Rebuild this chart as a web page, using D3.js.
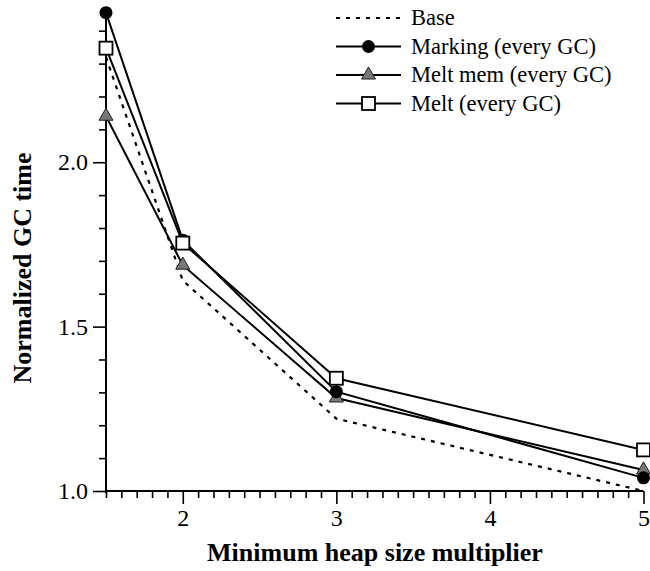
<!DOCTYPE html>
<html>
<head>
<meta charset="utf-8">
<script src="https://cdn.jsdelivr.net/npm/d3@7"></script>
<style>
  html, body { margin: 0; padding: 0; background: #fff; }
  svg { display: block; }
  text { font-family: "Liberation Serif", "Times New Roman", serif; fill: #000; }
</style>
</head>
<body>
<svg id="chart" width="650" height="571"></svg>
<script>
// Heap size multipliers on the x axis
const multipliers = [1.5, 2, 3, 5];

// Normalized GC time for each configuration
const baseValues     = [2.32, 1.64, 1.22, 1.00];
const markingValues  = [2.455, 1.763, 1.302, 1.040];
const meltMemValues  = [2.14, 1.687, 1.283, 1.064];
const meltValues     = [2.347, 1.754, 1.343, 1.125];

const seriesNames = ["Base", "Marking (every GC)", "Melt mem (every GC)", "Melt (every GC)"];

// Axis tick labels
const xTickLabels = [2, 3, 4, 5];
const yTickLabels = [1.0, 1.5, 2.0];

const svg = d3.select("#chart");

const x = d3.scaleLinear().domain([1.5, 5]).range([106, 643.5]);
const y = d3.scaleLinear().domain([1.0, 2.46]).range([491, 11]);

const series = [
  { name: seriesNames[0], values: baseValues,    marker: "none",     dash: "4,6" },
  { name: seriesNames[2], values: meltMemValues, marker: "triangle", dash: null },
  { name: seriesNames[1], values: markingValues, marker: "circle",   dash: null },
  { name: seriesNames[3], values: meltValues,    marker: "square",   dash: null }
];

// ---- axes ----
const xMinor = d3.range(15, 51).map(d => d / 10).filter(d => !xTickLabels.includes(d));
const yMinor = d3.range(10, 25).map(d => d / 10).filter(d => !yTickLabels.some(v => Math.abs(v - d) < 1e-9));

const axisG = svg.append("g");

// x axis: major ticks with labels, minor ticks without
axisG.append("g")
  .attr("transform", `translate(0,${y(1.0)})`)
  .call(d3.axisBottom(x).tickValues(xMinor).tickSize(7).tickFormat("").tickSizeOuter(0))
  .call(g => g.select(".domain").remove())
  .call(g => g.selectAll("line").attr("stroke", "#000").attr("stroke-width", 1.6));

axisG.append("g")
  .attr("transform", `translate(0,${y(1.0)})`)
  .call(d3.axisBottom(x).tickValues(xTickLabels).tickSize(13).tickPadding(5)
        .tickFormat(d3.format("d")).tickSizeOuter(0))
  .call(g => g.select(".domain").attr("stroke", "#000").attr("stroke-width", 2).attr("d", `M${x(1.5)},0H${x(5)}`))
  .call(g => g.selectAll("line").attr("stroke", "#000").attr("stroke-width", 1.6))
  .call(g => g.selectAll("text").attr("font-size", 24).style("font-family", "Liberation Serif"));

// y axis
axisG.append("g")
  .attr("transform", `translate(${x(1.5)},0)`)
  .call(d3.axisLeft(y).tickValues(yMinor).tickSize(7).tickFormat("").tickSizeOuter(0))
  .call(g => g.select(".domain").remove())
  .call(g => g.selectAll("line").attr("stroke", "#000").attr("stroke-width", 1.6));

axisG.append("g")
  .attr("transform", `translate(${x(1.5)},0)`)
  .call(d3.axisLeft(y).tickValues(yTickLabels).tickSize(13).tickPadding(5)
        .tickFormat(d3.format(".1f")).tickSizeOuter(0))
  .call(g => g.select(".domain").attr("stroke", "#000").attr("stroke-width", 2).attr("d", `M0,${y(1.0) + 2}V${y.range()[1]}`))
  .call(g => g.selectAll("line").attr("stroke", "#000").attr("stroke-width", 1.6))
  .call(g => g.selectAll("text").attr("font-size", 24).style("font-family", "Liberation Serif"));

// ---- axis titles ----
svg.append("text")
  .attr("x", 375).attr("y", 561)
  .attr("text-anchor", "middle")
  .attr("font-size", 26).attr("font-weight", "bold")
  .text("Minimum heap size multiplier");

svg.append("text")
  .attr("transform", `translate(31,268) rotate(-90)`)
  .attr("text-anchor", "middle")
  .attr("font-size", 26).attr("font-weight", "bold")
  .text("Normalized GC time");

// ---- markers ----
function drawMarker(g, type, cx, cy) {
  if (type === "circle") {
    g.append("circle").attr("cx", cx).attr("cy", cy).attr("r", 6.5)
      .attr("fill", "#000");
  } else if (type === "square") {
    g.append("rect").attr("x", cx - 6.5).attr("y", cy - 6.5)
      .attr("width", 13).attr("height", 13)
      .attr("fill", "#fff").attr("stroke", "#000").attr("stroke-width", 1.8);
  } else if (type === "triangle") {
    const sym = d3.symbol().type(d3.symbolTriangle).size(85);
    g.append("path").attr("d", sym())
      .attr("transform", `translate(${cx},${cy})`)
      .attr("fill", "#777").attr("stroke", "#222").attr("stroke-width", 1);
  }
}

// ---- lines ----
const line = d3.line().x((d, i) => x(multipliers[i])).y(d => y(d));
const plot = svg.append("g");

series.forEach(s => {
  const g = plot.append("g");
  g.append("path")
    .attr("d", line(s.values))
    .attr("fill", "none")
    .attr("stroke", "#000")
    .attr("stroke-width", s.dash ? 2.2 : 2)
    .attr("stroke-dasharray", s.dash);
  s.values.forEach((v, i) => drawMarker(g, s.marker, x(multipliers[i]), y(v)));
});

// ---- legend ----
const legendOrder = [series[0], series[2], series[1], series[3]];
const legend = svg.append("g");
legendOrder.forEach((s, i) => {
  const ly = 18 + i * 28.5;
  const row = legend.append("g");
  row.append("line")
    .attr("x1", 336).attr("x2", 401).attr("y1", ly).attr("y2", ly)
    .attr("stroke", "#000").attr("stroke-width", s.dash ? 2.2 : 2)
    .attr("stroke-dasharray", s.dash);
  drawMarker(row, s.marker, 368.5, ly);
  row.append("text")
    .attr("x", 411).attr("y", ly).attr("dy", "0.33em")
    .attr("font-size", 22.5)
    .text(s.name);
});
</script>
</body>
</html>
